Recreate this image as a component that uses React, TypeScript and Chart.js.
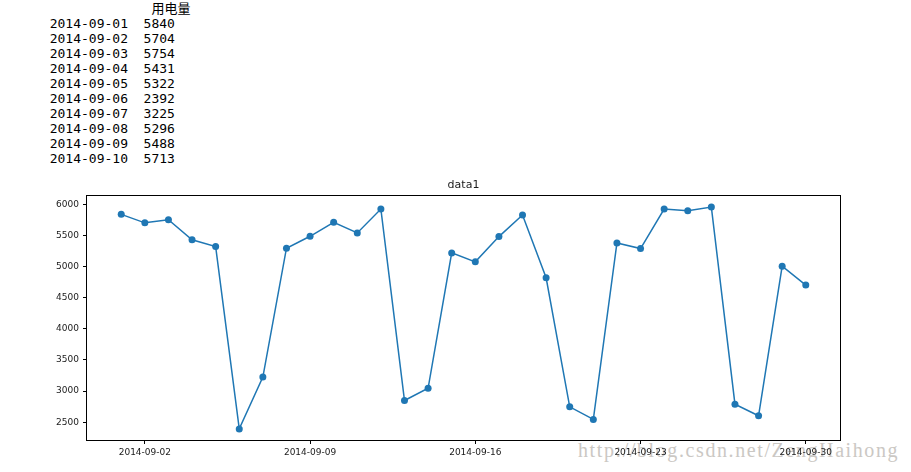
import React, { useEffect, useRef } from "react";
import { Chart, registerables } from "chart.js";

Chart.register(...registerables);

const dates = [
  "2014-09-01", "2014-09-02", "2014-09-03", "2014-09-04", "2014-09-05",
  "2014-09-06", "2014-09-07", "2014-09-08", "2014-09-09", "2014-09-10",
  "2014-09-11", "2014-09-12", "2014-09-13", "2014-09-14", "2014-09-15",
  "2014-09-16", "2014-09-17", "2014-09-18", "2014-09-19", "2014-09-20",
  "2014-09-21", "2014-09-22", "2014-09-23", "2014-09-24", "2014-09-25",
  "2014-09-26", "2014-09-27", "2014-09-28", "2014-09-29", "2014-09-30",
];
const usage = [
  5840, 5704, 5754, 5431, 5322, 2392, 3225, 5296, 5488, 5713,
  5541, 5925, 2848, 3045, 5221, 5077, 5483, 5829, 4821, 2747,
  2544, 5381, 5291, 5925, 5899, 5957, 2789, 2603, 5008, 4704,
];
const xTickDates = ["2014-09-02", "2014-09-09", "2014-09-16", "2014-09-23", "2014-09-30"];
const yTicks = [2500, 3000, 3500, 4000, 4500, 5000, 5500, 6000];
const seriesName = "data1";
const columnName = "用电量";
const tableRows = 10;
const watermark = "http://blog.csdn.net/ZengHaihong";

const day = (d: string) => parseInt(d.slice(8), 10);

const framePlugin = {
  id: "frame",
  afterDatasetsDraw(chart: any) {
    const { ctx, chartArea } = chart;
    ctx.save();
    ctx.strokeStyle = "#000";
    ctx.lineWidth = 1;
    ctx.strokeRect(
      chartArea.left - 0.5,
      chartArea.top - 0.5,
      chartArea.right - chartArea.left + 1,
      chartArea.bottom - chartArea.top + 1
    );
    ctx.restore();
  },
};

export default function App() {
  const canvasRef = useRef<HTMLCanvasElement>(null);

  useEffect(() => {
    const xs = dates.map(day);
    const xMin = Math.min(...xs);
    const xMax = Math.max(...xs);
    const xPad = (xMax - xMin) * 0.05;
    const yMin = Math.min(...usage);
    const yMax = Math.max(...usage);
    const yPad = (yMax - yMin) * 0.05;

    const chart = new Chart(canvasRef.current as HTMLCanvasElement, {
      type: "line",
      data: {
        datasets: [
          {
            label: seriesName,
            data: dates.map((d, i) => ({ x: day(d), y: usage[i] })),
            borderColor: "#1f77b4",
            backgroundColor: "#1f77b4",
            borderWidth: 1.5,
            pointRadius: 3.5,
            pointBorderWidth: 0,
            pointBackgroundColor: "#1f77b4",
            tension: 0,
            fill: false,
          },
        ],
      },
      options: {
        responsive: false,
        animation: false,
        layout: { padding: { left: 0, top: 179, right: 71, bottom: 0 } },
        plugins: {
          legend: { display: false },
          tooltip: { enabled: false },
          title: {
            display: true,
            text: seriesName,
            fullSize: false,
            color: "#1a1a1a",
            font: { family: "DejaVu Sans", size: 11, weight: "normal", lineHeight: 1.2 },
            padding: { top: 0, bottom: 3.8 },
          },
        },
        scales: {
          x: {
            type: "linear",
            min: xMin - xPad,
            max: xMax + xPad,
            afterBuildTicks: (scale: any) => {
              scale.ticks = xTickDates.map((d) => ({ value: day(d) }));
            },
            afterFit: (scale: any) => {
              scale.height = 32;
            },
            border: { display: false },
            grid: {
              drawOnChartArea: false,
              drawTicks: true,
              tickLength: 4,
              color: "#000",
              lineWidth: 1,
            },
            ticks: {
              autoSkip: false,
              maxRotation: 0,
              padding: 3,
              color: "#1a1a1a",
              font: { family: "DejaVu Sans", size: 9 },
              callback: (v: any) => dates.find((d) => day(d) === v) || "",
            },
          },
          y: {
            type: "linear",
            min: yMin - yPad,
            max: yMax + yPad,
            afterBuildTicks: (scale: any) => {
              scale.ticks = yTicks.map((v) => ({ value: v }));
            },
            afterFit: (scale: any) => {
              scale.width = 87;
            },
            border: { display: false },
            grid: {
              drawOnChartArea: false,
              drawTicks: true,
              tickLength: 4,
              color: "#000",
              lineWidth: 1,
            },
            ticks: {
              padding: 4,
              color: "#1a1a1a",
              font: { family: "DejaVu Sans", size: 9 },
              callback: (v: any) => String(v),
            },
          },
        },
      },
      plugins: [framePlugin],
    } as any);
    return () => chart.destroy();
  }, []);

  const header = " ".repeat(13) + columnName;
  const lines = dates
    .slice(0, tableRows)
    .map((d, i) => `${d}  ${usage[i]}`);
  const tableText = [header, ...lines].join("\n");

  return (
    <div
      style={{
        position: "absolute",
        left: 0,
        top: 0,
        width: 911,
        height: 472,
        background: "#fff",
        overflow: "hidden",
      }}
    >
      <pre
        style={{
          position: "absolute",
          left: 49.7,
          top: 0.6,
          margin: 0,
          fontFamily: "'DejaVu Sans Mono', 'Noto Sans CJK SC', monospace",
          fontSize: 13,
          lineHeight: "15px",
          color: "#000",
        }}
      >
        {tableText}
      </pre>
      <div
        style={{
          position: "absolute",
          left: 578,
          top: 440,
          fontFamily: "'Liberation Serif', serif",
          fontSize: 20,
          lineHeight: "20px",
          letterSpacing: "1.6px",
          color: "#cbc8c4",
          whiteSpace: "nowrap",
        }}
      >
        {watermark}
      </div>
      <canvas
        ref={canvasRef}
        width={911}
        height={472}
        style={{ position: "absolute", left: 0, top: 0 }}
      />
    </div>
  );
}
